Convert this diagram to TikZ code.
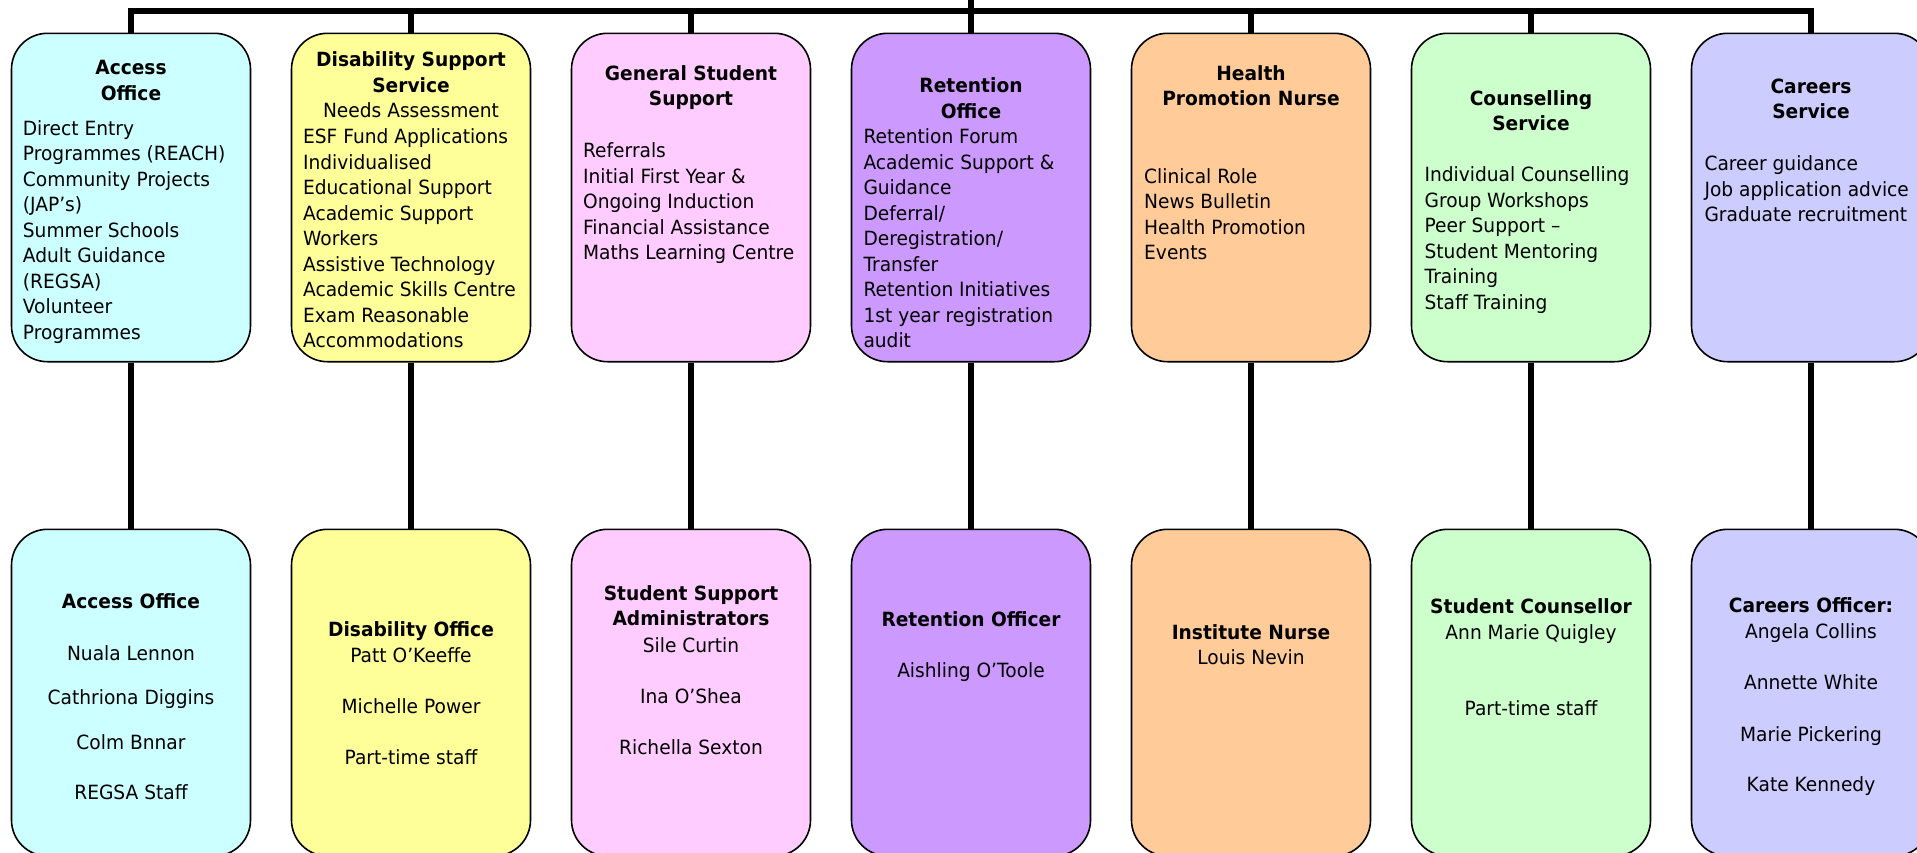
\documentclass[tikz,border=0pt]{standalone}
\usepackage{fontspec}
\setmainfont{DejaVu Sans}[FakeStretch=0.95]
\definecolor{cAccess}{HTML}{CCFFFF}
\definecolor{cDis}{HTML}{FFFF99}
\definecolor{cGen}{HTML}{FFCCFF}
\definecolor{cRet}{HTML}{CC99FF}
\definecolor{cHealth}{HTML}{FFCC99}
\definecolor{cCoun}{HTML}{CCFFCC}
\definecolor{cCar}{HTML}{CCCCFF}
\tikzset{
  box/.style={draw=black, line width=1.6pt, rounded corners=36pt, minimum width=239pt, inner sep=0pt},
  toprow/.style={box, minimum height=328.4pt},
  botrow/.style={box, minimum height=326.7pt},
  bus/.style={line width=6pt, line join=miter, draw=black},
  txt/.style={inner sep=0pt, font=\fontsize{19.6}{25.5}\selectfont},
  body/.style={txt, align=left, anchor=north west},
  head/.style={txt, align=center, anchor=north}
}
\begin{document}
\begin{tikzpicture}[x=1pt,y=-1pt]
\useasboundingbox (0,0) rectangle (1917,852);
\clip (0,0) rectangle (1917,852);

% top row boxes
\node[toprow, fill=cAccess] (t1) at (131,197.5) {};
\node[toprow, fill=cDis]    (t2) at (411,197.5) {};
\node[toprow, fill=cGen]    (t3) at (691,197.5) {};
\node[toprow, fill=cRet]    (t4) at (971,197.5) {};
\node[toprow, fill=cHealth] (t5) at (1251,197.5) {};
\node[toprow, fill=cCoun]   (t6) at (1531,197.5) {};
\node[toprow, fill=cCar]    (t7) at (1811,197.5) {};

% bottom row boxes
\node[botrow, fill=cAccess] (b1) at (131,692.65) {};
\node[botrow, fill=cDis]    (b2) at (411,692.65) {};
\node[botrow, fill=cGen]    (b3) at (691,692.65) {};
\node[botrow, fill=cRet]    (b4) at (971,692.65) {};
\node[botrow, fill=cHealth] (b5) at (1251,692.65) {};
\node[botrow, fill=cCoun]   (b6) at (1531,692.65) {};
\node[botrow, fill=cCar]    (b7) at (1811,692.65) {};

% connectors
\coordinate (root) at (971,0);
\coordinate (busy) at (0,11);
\draw[bus] (t1.north) -- (t1.north |- busy) -- (t7.north |- busy) -- (t7.north);
\foreach \i in {2,...,6} \draw[bus] (t\i.north) -- (t\i.north |- busy);
\draw[bus] (root) -- (t4.north);
\foreach \i in {1,...,7} \draw[bus] (t\i.south) -- (b\i.north);

% top row texts
\node[head] (h1) at (131,60.2) {\textbf{Access}\\\textbf{Office}};
\node[body] (d1) at (22.7,120.2) {Direct Entry\\Programmes (REACH)\\Community Projects\\(JAP’s)\\Summer Schools\\Adult Guidance\\(REGSA)\\Volunteer\\Programmes};

\node[head] (h2) at (411,51.8) {\textbf{Disability Support}\\\textbf{Service}\\Needs Assessment};
\node[body] (d2) at (302.9,128.5) {ESF Fund Applications\\Individualised\\Educational Support\\Academic Support\\Workers\\Assistive Technology\\Academic Skills Centre\\Exam Reasonable\\Accommodations};

\node[head] (h3) at (691,65.2) {\textbf{General Student}\\\textbf{Support}};
\node[body] (d3) at (582.9,142.5) {Referrals\\Initial First Year \&\\Ongoing Induction\\Financial Assistance\\Maths Learning Centre};

\node[head] (h4) at (971,77.5) {\textbf{Retention}\\\textbf{Office}};
\node[body] (d4) at (863.3,128.5) {Retention Forum\\Academic Support \&\\Guidance\\Deferral/\\Deregistration/\\Transfer\\Retention Initiatives\\1st year registration\\audit};

\node[head] (h5) at (1251,65.2) {\textbf{Health}\\\textbf{Promotion Nurse}};
\node[body] (d5) at (1144,168.2) {Clinical Role\\News Bulletin\\Health Promotion\\Events};

\node[head] (h6) at (1531,90.2) {\textbf{Counselling}\\\textbf{Service}};
\node[body] (d6) at (1424.4,166.5) {Individual Counselling\\Group Workshops\\Peer Support –\\Student Mentoring\\Training\\Staff Training};

\node[head] (h7) at (1811,78.5) {\textbf{Careers}\\\textbf{Service}};
\node[body] (d7) at (1704.3,155.8) {Career guidance\\Job application advice\\Graduate recruitment};

% bottom row texts
\node[head] (s1) at (131,593.5) {\textbf{Access Office}\\[26.2pt]Nuala Lennon\\[18.5pt]Cathriona Diggins\\[19.5pt]Colm Bnnar\\[25.1pt]REGSA Staff};
\node[head] (s2) at (411,621.8) {\textbf{Disability Office}\\Patt O’Keeffe\\[25.5pt]Michelle Power\\[25.1pt]Part-time staff};
\node[head] (s3) at (691,585.2) {\textbf{Student Support}\\\textbf{Administrators}\\[1.2pt]Sile Curtin\\[25.5pt]Ina O’Shea\\[25.2pt]Richella Sexton};
\node[head] (s4) at (971,611.5) {\textbf{Retention Officer}\\[25.5pt]Aishling O’Toole};
\node[head] (s5) at (1251,624.2) {\textbf{Institute Nurse}\\Louis Nevin};
\node[head] (s6) at (1531,598.5) {\textbf{Student Counsellor}\\[0.8pt]Ann Marie Quigley\\[50.5pt]Part-time staff};
\node[head] (s7) at (1811,597.8) {\textbf{Careers Officer:}\\Angela Collins\\[25.5pt]Annette White\\[26.2pt]Marie Pickering\\[25.2pt]Kate Kennedy};
\end{tikzpicture}
\end{document}
